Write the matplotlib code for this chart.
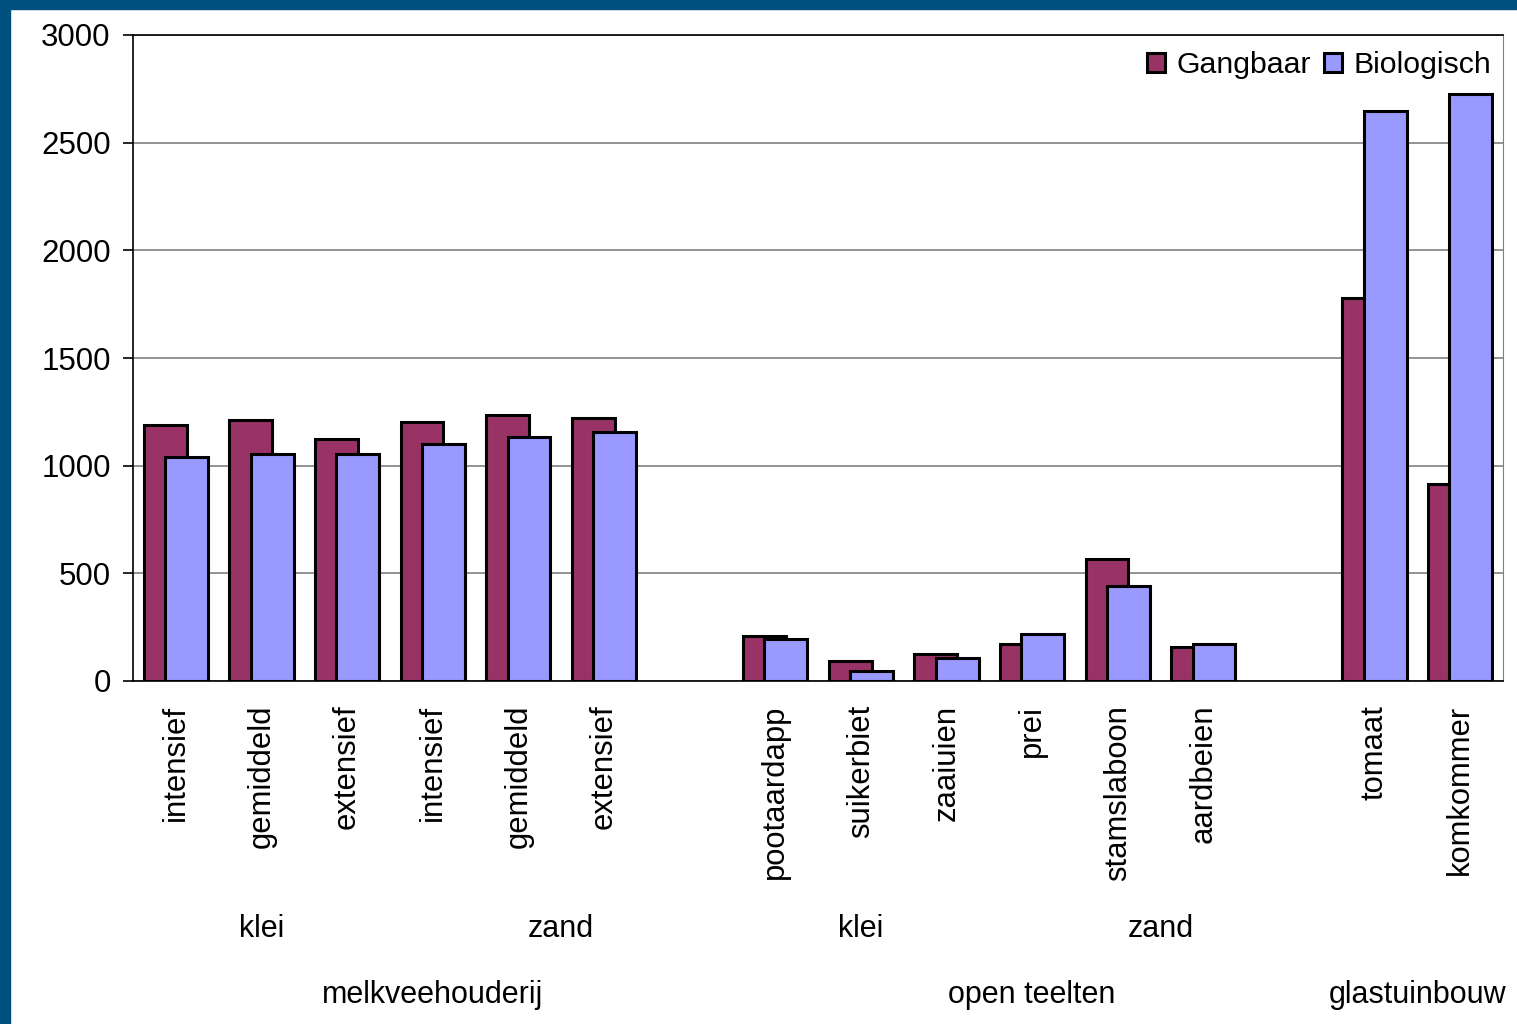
import numpy as np
import matplotlib.pyplot as plt
from matplotlib.patches import Rectangle

plt.rcParams['font.family'] = ['Liberation Sans', 'DejaVu Sans']

# Categories (None = empty slot between sectors)
categories = ['intensief', 'gemiddeld', 'extensief',
              'intensief', 'gemiddeld', 'extensief', None,
              'pootaardapp', 'suikerbiet', 'zaaiuien', 'prei', 'stamslaboon', 'aardbeien', None,
              'tomaat', 'komkommer']

gangbaar = [1190, 1210, 1125, 1205, 1235, 1222,
            208, 93, 125, 172, 567, 158,
            1780, 915]
biologisch = [1040, 1055, 1055, 1100, 1133, 1157,
              195, 46, 107, 218, 441, 172,
              2647, 2727]

# second level: (label, first slot, last slot)
soil_groups = [('klei', 0, 2), ('zand', 3, 6), ('klei', 7, 9), ('zand', 10, 13)]
sector_groups = [('melkveehouderij', 0, 6), ('open teelten', 7, 13), ('glastuinbouw', 14, 15)]

col_g = '#993366'
col_b = '#9999FF'
border = '#00507F'

fig = plt.figure(figsize=(15.17, 10.24), dpi=100)
fig.patch.set_facecolor('white')

# blue frame on left and top
fig.patches.append(Rectangle((0, 0), 10 / 1517, 1, transform=fig.transFigure,
                             color=border, zorder=0))
fig.patches.append(Rectangle((0, 1 - 9 / 1024), 1, 9 / 1024, transform=fig.transFigure,
                             color=border, zorder=0))

ax = fig.add_axes([133 / 1517, 1 - 681 / 1024, 1370 / 1517, 646 / 1024])

slots = [i for i, c in enumerate(categories) if c is not None]
x = np.array(slots)
w = 0.5

ax.bar(x - 0.125, gangbaar, w, color=col_g, edgecolor='black', linewidth=2.2,
       label='Gangbaar', zorder=2)
ax.bar(x + 0.125, biologisch, w, color=col_b, edgecolor='black', linewidth=2.2,
       label='Biologisch', zorder=3)

ax.set_xlim(-0.5, len(categories) - 0.5)
ax.set_ylim(0, 3000)
ax.set_yticks(np.arange(0, 3001, 500))
ax.yaxis.grid(True, color='#808080', linewidth=1.2, zorder=0)
ax.set_axisbelow(True)
ax.tick_params(axis='y', labelsize=22.5, length=7, width=1.2, direction='out', pad=9)
ax.set_xticks([])

for s in ['left', 'top', 'bottom']:
    ax.spines[s].set_color('black')
    ax.spines[s].set_linewidth(1.2)
ax.spines['right'].set_color('#808080')

# category labels
for i, c in enumerate(categories):
    if c is None:
        continue
    ax.text(i, -110, c, rotation=90, ha='center', va='top', fontsize=22.3)

for name, a, b in soil_groups:
    ax.text((a + b) / 2, -1150, name, ha='center', va='center', fontsize=22)
for name, a, b in sector_groups:
    ax.text((a + b) / 2, -1460, name, ha='center', va='center', fontsize=22)

ax.legend(loc='upper right', bbox_to_anchor=(1.006, 1.005), ncol=2, frameon=False,
          fontsize=21.8, handlelength=0.6, handleheight=0.6, handletextpad=0.4,
          columnspacing=0.4, borderaxespad=0.25)

fig.savefig('out.png', dpi=100, facecolor='white')
